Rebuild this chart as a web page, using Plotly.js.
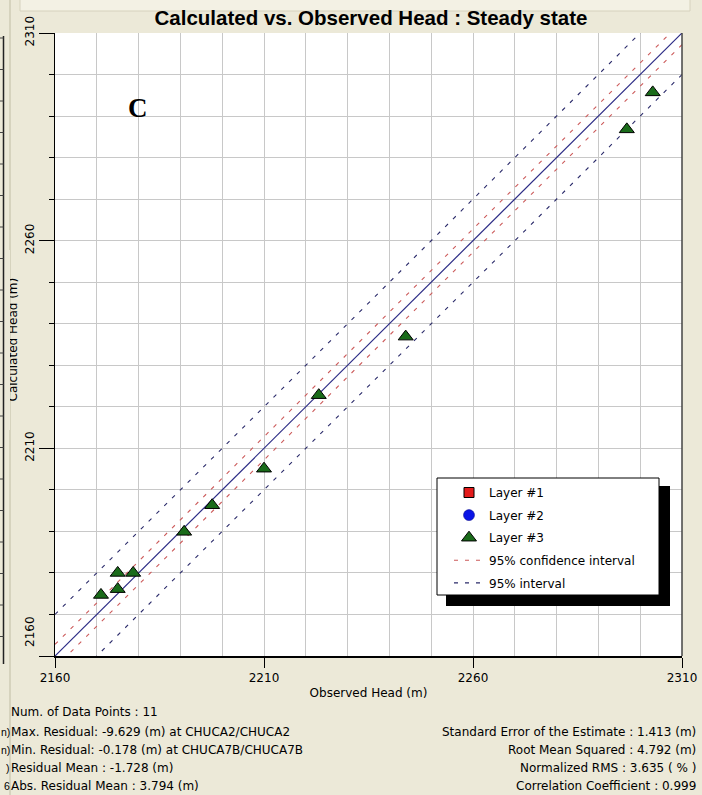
<!DOCTYPE html>
<html>
<head>
<meta charset="utf-8">
<script src="https://cdn.plot.ly/plotly-3.0.1.min.js"></script>
<style>
  html, body { margin: 0; padding: 0; background: #ece9d8; }
  #chart { width: 702px; height: 795px; }
</style>
</head>
<body>
<div id="chart"></div>
<script>
// ---- Data ----
const observedHead   = [2171.0, 2175.0, 2175.0, 2178.7, 2190.9, 2197.6, 2210.0, 2223.1, 2243.9, 2296.8, 2303.0];
const calculatedHead = [2174.7, 2176.1, 2180.0, 2180.0, 2189.9, 2196.3, 2205.1, 2222.8, 2236.9, 2286.8, 2295.7];
const layer1Obs = [null], layer1Calc = [null];   // no observations in layer 1
const layer2Obs = [null], layer2Calc = [null];   // no observations in layer 2

// reference lines (1:1 line and interval bands)
const lineEnds  = [2160, 2310];
const confUpper = [2162.8, 2312.8];
const confLower = [2157.2, 2307.2];
const predUpper = [2170, 2320];
const predLower = [2150, 2300];

const xTickVals = [2160, 2210, 2260, 2310];
const xTickText = ['2160', '2210', '2260', '2310'];
const yTickVals = [2160, 2210, 2260, 2310];
const yTickText = ['', '2210', '2260', '2310'];   // 2160 is drawn raised, as in the reference
const yLowLabel = '2160';
const yTitle = 'Calculated Head (m)';

const statsLeft = [
  'Num. of Data Points : 11',
  'Max. Residual: -9.629 (m) at CHUCA2/CHUCA2',
  'Min. Residual: -0.178 (m) at CHUCA7B/CHUCA7B',
  'Residual Mean : -1.728 (m)',
  'Abs. Residual Mean : 3.794 (m)'
];
const statsRight = [
  'Standard Error of the Estimate : 1.413 (m)',
  'Root Mean Squared : 4.792 (m)',
  'Normalized RMS : 3.635 ( % )',
  'Correlation Coefficient : 0.999'
];
const strayChars = ['', 'n)', 'n)', ')', '6'];

// ---- Geometry helpers (pixel -> paper) ----
const W = 702, H = 795;
const M = {l: 55, r: 20, t: 33, b: 139};
const PW = W - M.l - M.r, PH = H - M.t - M.b;
const px = x => (x - M.l) / PW;
const py = y => (H - M.b - y) / PH;

const FONT = 'DejaVu Sans, Verdana, sans-serif';
const TFONT = 'Liberation Sans, Arial, sans-serif';
const BG = '#ece9d8';

const traces = [
  {
    x: layer1Obs, y: layer1Calc, type: 'scatter', mode: 'markers', name: 'Layer #1',
    legendrank: 1, legendgroup: 'g1',
    marker: {symbol: 'square', size: 10, color: '#e41b1b', line: {color: '#000', width: 1}}
  },
  {
    x: layer2Obs, y: layer2Calc, type: 'scatter', mode: 'markers', name: 'Layer #2',
    legendrank: 2, legendgroup: 'g2',
    marker: {symbol: 'circle', size: 11, color: '#0a14e6', line: {color: '#000080', width: 0.5}}
  },
  {
    x: [...lineEnds, null, ...lineEnds], y: [...confUpper, null, ...confLower],
    type: 'scatter', mode: 'lines', name: '95% confidence interval',
    legendrank: 4, legendgroup: 'g4',
    line: {color: '#cc5a5a', width: 1.1, dash: '4px,7px'}
  },
  {
    x: [...lineEnds, null, ...lineEnds], y: [...predUpper, null, ...predLower],
    type: 'scatter', mode: 'lines', name: '95% interval',
    legendrank: 5, legendgroup: 'g5',
    line: {color: '#2a2a6a', width: 1.1, dash: '4px,7px'}
  },
  {
    x: lineEnds, y: lineEnds, type: 'scatter', mode: 'lines', showlegend: false,
    line: {color: '#2c2c86', width: 1.2}, hoverinfo: 'skip'
  },
  {
    x: observedHead, y: calculatedHead, type: 'scatter', mode: 'markers', name: 'Layer #3',
    legendrank: 3, legendgroup: 'g3',
    marker: {symbol: 'triangle-up', size: 13, color: '#1a6b1a', line: {color: '#000', width: 1}}
  }
];

const annotations = [];
annotations.push({
  text: '<b>C</b>', xref: 'paper', yref: 'paper', x: px(138), y: py(108),
  xanchor: 'center', yanchor: 'middle', showarrow: false,
  font: {family: 'Liberation Serif, Times New Roman, serif', size: 27, color: '#000'}
});
// raised 2160 label on the y axis
annotations.push({
  text: yLowLabel, xref: 'paper', yref: 'paper', x: px(30), y: py(632), textangle: -90,
  xanchor: 'center', yanchor: 'middle', showarrow: false,
  font: {family: FONT, size: 12, color: '#000'}
});
// y-axis title (its left part is hidden by the window edge, as in the reference)
annotations.push({
  text: yTitle, xref: 'paper', yref: 'paper', x: px(12.5), y: py(340), textangle: -90,
  xanchor: 'center', yanchor: 'middle', showarrow: false, borderpad: 0,
  font: {family: FONT, size: 12, color: '#000'}
});
const leftRows = [712, 732, 750, 768, 786];
statsLeft.forEach((t, i) => annotations.push({
  text: t, xref: 'paper', yref: 'paper', x: px(9), y: py(leftRows[i]),
  xanchor: 'left', yanchor: 'middle', showarrow: false,
  font: {family: FONT, size: 12, color: '#000'}
}));
strayChars.forEach((t, i) => { if (t) annotations.push({
  text: t, xref: 'paper', yref: 'paper', x: px(10.5), y: py(leftRows[i]),
  xanchor: 'right', yanchor: 'middle', showarrow: false, borderpad: 0,
  font: {family: TFONT, size: 10.5, color: '#000'}
}); });
const rightRows = [732, 750, 768, 786];
statsRight.forEach((t, i) => annotations.push({
  text: t, xref: 'paper', yref: 'paper', x: px(698), y: py(rightRows[i]),
  xanchor: 'right', yanchor: 'middle', showarrow: false,
  font: {family: FONT, size: 12, color: '#000'}
}));
// window edge hiding the left part of the y-axis title
annotations.push({
  text: '&nbsp;', xref: 'paper', yref: 'paper', x: px(4.6), y: py(340),
  xanchor: 'left', yanchor: 'middle', showarrow: false,
  width: 5.0, height: 180, bgcolor: BG, borderpad: 0, borderwidth: 0,
  font: {size: 2, color: BG}
});

const shapes = [
  // top strip
  {type: 'rect', xref: 'paper', yref: 'paper', x0: px(20), x1: px(690), y0: py(-2), y1: py(11),
   fillcolor: '#f3f1e4', line: {color: '#d6d2bd', width: 1}, layer: 'below'},
  // left neighbour window edge
  {type: 'line', xref: 'paper', yref: 'paper', x0: px(3.5), x1: px(3.5), y0: py(36), y1: py(664),
   line: {color: '#222', width: 1.5}},
  {type: 'line', xref: 'paper', yref: 'paper', x0: px(10), x1: px(10), y0: py(0), y1: py(795),
   line: {color: '#cfcbb6', width: 1.5}},
  // right border of plot
  {type: 'line', xref: 'paper', yref: 'paper', x0: 1, x1: 1, y0: 0, y1: 1,
   line: {color: '#444', width: 1.5}, layer: 'above'},
  // legend shadow and box
  {type: 'rect', xref: 'paper', yref: 'paper', x0: px(446), x1: px(670), y0: py(486), y1: py(606),
   fillcolor: '#000', line: {width: 0}, layer: 'above'},
  {type: 'rect', xref: 'paper', yref: 'paper', x0: px(437), x1: px(659), y0: py(478), y1: py(595),
   fillcolor: '#fff', line: {color: '#000', width: 1}, layer: 'above'}
];
// small ticks of the neighbouring window's axis at the far left
for (let yy = 38; yy < 664; yy += 31.5) {
  shapes.push({type: 'line', xref: 'paper', yref: 'paper', x0: px(0), x1: px(3.5), y0: py(yy), y1: py(yy),
               line: {color: '#444', width: 1}});
}

const axisCommon = {
  range: [2160, 2310], tickmode: 'array',
  showline: true, linecolor: '#000', linewidth: 1.5, zeroline: false,
  showgrid: true, gridcolor: '#c8c8c8', gridwidth: 1,
  tickcolor: '#000', tickwidth: 1,
  tickfont: {family: FONT, size: 12, color: '#000'}
};

const layout = {
  width: W, height: H, margin: M,
  paper_bgcolor: BG, plot_bgcolor: '#ffffff',
  title: {
    text: 'Calculated vs. Observed Head : Steady state',
    font: {family: TFONT, size: 20.5, color: '#000', weight: 'bold'},
    x: 371 / W, xref: 'container', xanchor: 'center',
    y: 1 - 18 / H, yref: 'container', yanchor: 'middle'
  },
  xaxis: Object.assign({}, axisCommon, {
    tickvals: xTickVals, ticktext: xTickText,
    ticks: 'outside', ticklen: 10,
    minor: {dtick: 10, tick0: 2160, showgrid: true, gridcolor: '#c8c8c8', gridwidth: 1, ticks: ''},
    title: {text: 'Observed Head (m)', font: {family: FONT, size: 12, color: '#000'}, standoff: 4}
  }),
  yaxis: Object.assign({}, axisCommon, {
    tickvals: yTickVals, ticktext: yTickText,
    ticks: 'outside', ticklen: 15, tickangle: -90,
    minor: {dtick: 10, tick0: 2160, showgrid: true, gridcolor: '#c8c8c8', gridwidth: 1,
            ticks: 'outside', ticklen: 5, tickcolor: '#000'}
  }),
  legend: {
    x: px(449), y: py(478), xanchor: 'left', yanchor: 'top',
    bgcolor: 'rgba(0,0,0,0)', borderwidth: 0,
    font: {family: FONT, size: 12, color: '#000'},
    tracegroupgap: 3.6, itemwidth: 30
  },
  showlegend: true,
  shapes: shapes,
  annotations: annotations
};

Plotly.newPlot('chart', traces, layout, {displayModeBar: false, staticPlot: true});
</script>
</body>
</html>
